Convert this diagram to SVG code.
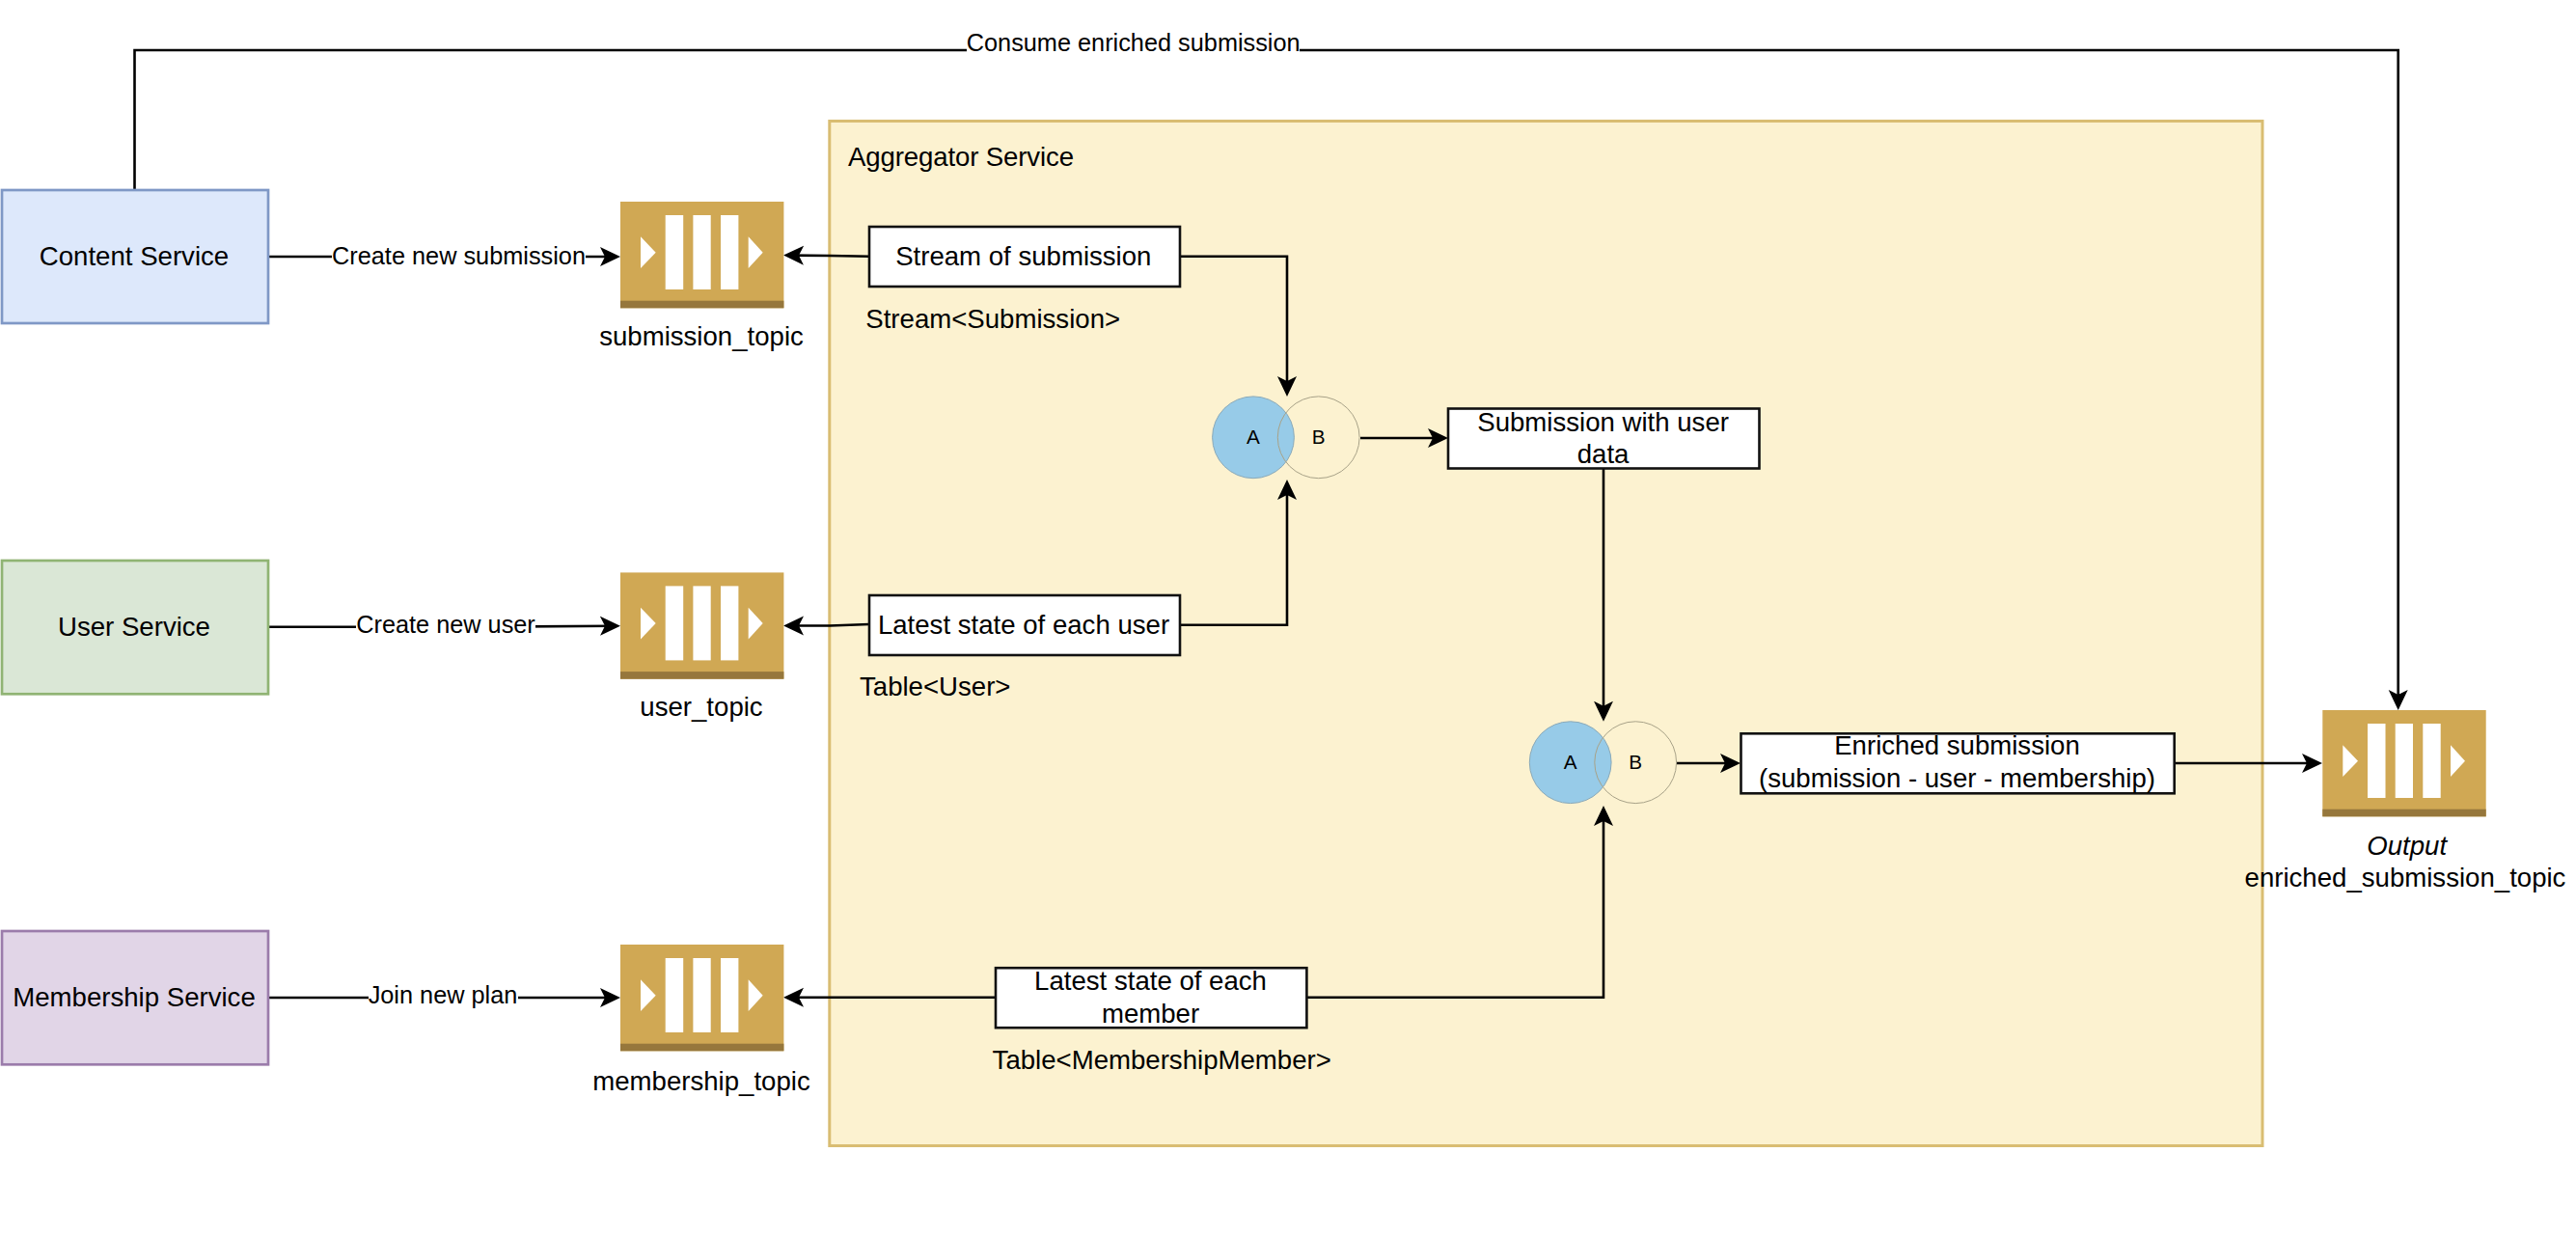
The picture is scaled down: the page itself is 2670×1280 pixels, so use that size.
<svg xmlns="http://www.w3.org/2000/svg" xmlns:xlink="http://www.w3.org/1999/xlink" width="2670" height="1280" viewBox="0 0 2670 1280">
<style>
text{font-family:"Liberation Sans",Arial,sans-serif;font-size:27.6px;fill:#000}
.c{text-anchor:middle}
.svc{stroke-width:2.7}
.box{fill:#fff;stroke:#111;stroke-width:2.6}
.line{fill:none;stroke:#000;stroke-width:2.6;marker-end:url(#arrow)}
.plain{fill:none;stroke:#000;stroke-width:2.6}
.lbl{fill:#fff}
.edge{font-size:25.3px}
.small{font-size:20.7px}
.va{fill:#97cbe8;stroke:#8aa9b8;stroke-width:1}
.vb{fill:none;stroke:#a8a288;stroke-width:1}
</style>
<defs>
<marker id="arrow" markerUnits="userSpaceOnUse" markerWidth="24" markerHeight="24" viewBox="0 0 24 24" refX="15" refY="12" orient="auto">
<path d="M0 2 L21 12 L0 22 L5 12 Z" fill="#000"/>
</marker>
<g id="queue">
<rect x="0" y="0" width="169.4" height="110.3" fill="#d0a854"/>
<rect x="0" y="102.7" width="169.4" height="7.6" fill="#96773c"/>
<path d="M21 36.3 L36.7 52.7 L21 69 Z" fill="#fff"/>
<rect x="46.7" y="14" width="18.5" height="77" fill="#fff"/>
<rect x="75.4" y="14" width="18.3" height="77" fill="#fff"/>
<rect x="104" y="14" width="18.4" height="77" fill="#fff"/>
<path d="M132.7 36.3 L147.7 52.7 L132.7 69 Z" fill="#fff"/>
</g>
</defs>
<rect width="2670" height="1280" fill="#fff"/>
<g id="aggregator">
<rect x="859.8" y="125.5" width="1485.2" height="1062" fill="#fcf2d0" stroke="#d9bd72" stroke-width="3"/>
<text x="879" y="171.7" textLength="234">Aggregator Service</text>
</g>
<g id="connectors">
<path class="plain" d="M139.5 197 V52 H1002"/>
<path class="line" d="M1347 52 H2485.7 V730"/>
<path class="line" d="M278 266 H637"/>
<path class="line" d="M278 649.7 H500 L637 648.7"/>
<path class="line" d="M278 1034 H637"/>
<path class="line" d="M901 265.7 L860 265 L818 264.6"/>
<path class="line" d="M901 647 L860 648.5 H818"/>
<path class="line" d="M1031 1033.7 H818"/>
<path class="line" d="M1223 265.7 H1334 V405"/>
<path class="line" d="M1223 647.7 H1334 V503"/>
<path class="line" d="M1662 486 V741.7"/>
<path class="line" d="M1354.8 1033.7 H1662 V841"/>
<path class="line" d="M1410 454 H1495"/>
<path class="line" d="M1738 791 H1798"/>
<path class="line" d="M2254 791 H2401"/>
<rect class="lbl" x="344" y="248" width="263" height="36"/>
<text class="c edge" x="475.5" y="274">Create new submission</text>
<rect class="lbl" x="369" y="632" width="186" height="34"/>
<text class="c edge" x="462" y="656">Create new user</text>
<rect class="lbl" x="382" y="1016" width="155" height="34"/>
<text class="c edge" x="459" y="1040">Join new plan</text>
<text class="c edge" x="1174.7" y="52.7">Consume enriched submission</text>
</g>
<g id="content-service">
<rect class="svc" x="2" y="197" width="276" height="138" fill="#dde8fb" stroke="#7f98c6"/>
<text class="c" x="139" y="275">Content Service</text>
</g>
<g id="user-service">
<rect class="svc" x="2" y="581" width="276" height="138.3" fill="#dae7d6" stroke="#90b474"/>
<text class="c" x="139" y="659">User Service</text>
</g>
<g id="membership-service">
<rect class="svc" x="2" y="965" width="276" height="138.3" fill="#e1d5e7" stroke="#9b7cab"/>
<text class="c" x="139" y="1043">Membership Service</text>
</g>
<g id="submission-topic">
<use xlink:href="#queue" href="#queue" x="643" y="209"/>
<text class="c" x="727" y="358.3">submission_topic</text>
</g>
<g id="user-topic">
<use xlink:href="#queue" href="#queue" x="643" y="593.4"/>
<text class="c" x="727" y="742.3">user_topic</text>
</g>
<g id="membership-topic">
<use xlink:href="#queue" href="#queue" x="643" y="979"/>
<text class="c" x="727" y="1130.3">membership_topic</text>
</g>
<g id="enriched-topic">
<use xlink:href="#queue" href="#queue" x="2407.3" y="736"/>
<text class="c" x="2494.7" y="886" font-style="italic">Output</text>
<text class="c" x="2493" y="919.3">enriched_submission_topic</text>
</g>
<g id="stream-submission">
<rect class="box" x="901" y="235" width="322" height="62"/>
<text class="c" x="1060.8" y="275.3">Stream of submission</text>
<text x="897.3" y="340.3">Stream&lt;Submission&gt;</text>
</g>
<g id="state-user">
<rect class="box" x="901" y="617" width="322" height="62"/>
<text class="c" x="1061" y="657">Latest state of each user</text>
<text x="891" y="721.3">Table&lt;User&gt;</text>
</g>
<g id="state-member">
<rect class="box" x="1032" y="1003.2" width="322.4" height="62"/>
<text class="c" x="1192.5" y="1026.3">Latest state of each</text>
<text class="c" x="1192.5" y="1060.3">member</text>
<text x="1028.6" y="1108.3">Table&lt;MembershipMember&gt;</text>
</g>
<g id="join-1">
<ellipse class="va" cx="1299" cy="453.3" rx="42.4" ry="42.4"/>
<ellipse class="vb" cx="1366.7" cy="453.3" rx="42.4" ry="42.4"/>
<text class="c small" x="1299" y="460">A</text>
<text class="c small" x="1366.7" y="460">B</text>
</g>
<g id="submission-user">
<rect class="box" x="1501" y="423.5" width="322.5" height="62"/>
<text class="c" x="1661.6" y="447">Submission with user</text>
<text class="c" x="1661.6" y="480">data</text>
</g>
<g id="join-2">
<ellipse class="va" cx="1627.7" cy="790.2" rx="42.4" ry="42.4"/>
<ellipse class="vb" cx="1695.2" cy="790.2" rx="42.4" ry="42.4"/>
<text class="c small" x="1627.7" y="797">A</text>
<text class="c small" x="1695.2" y="797">B</text>
</g>
<g id="enriched-submission">
<rect class="box" x="1804.5" y="760.3" width="449.2" height="62"/>
<text class="c" x="2028.5" y="782">Enriched submission</text>
<text class="c" x="2028.5" y="816">(submission - user - membership)</text>
</g>
</svg>
